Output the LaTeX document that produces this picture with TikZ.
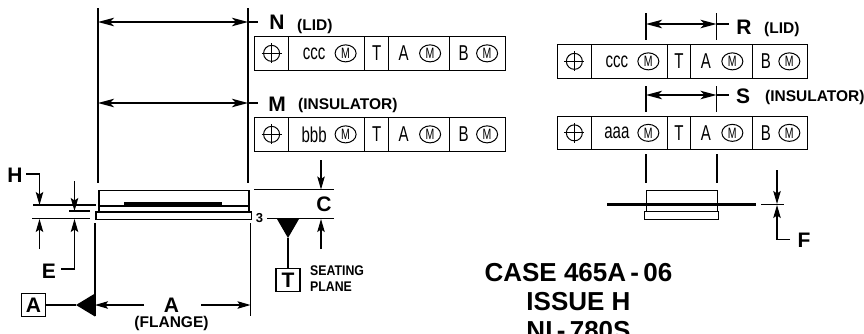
\documentclass[tikz,border=0pt]{standalone}
\usepackage{fontspec}
\setmainfont{Liberation Sans}
\newfontfamily\narrowf[FakeStretch=0.7]{Liberation Sans}
\newfontfamily\seatf[FakeStretch=0.88]{Liberation Sans}
\usetikzlibrary{arrows.meta,shapes.geometric}
\tikzset{
  dimline/.style={line width=1.1pt,black},
  arr/.style={dimline,-{Stealth[length=13pt,width=7.5pt,inset=2.5pt]}},
  dbl/.style={dimline,{Stealth[length=16pt,width=8.5pt,inset=4pt]}-{Stealth[length=16pt,width=8.5pt,inset=4pt]}},
  body/.style={draw,line width=1.5pt,inner sep=0pt,anchor=north west},
  heavy/.style={line width=2.2pt},
  cell/.style={draw,line width=1.2pt,inner sep=0pt,anchor=north west,minimum height=33.5pt},
  ctext/.style={font=\narrowf\fontsize{21.5}{21.5}\selectfont,inner sep=0pt,anchor=center},
  mm/.style={draw,line width=1pt,ellipse,minimum width=21pt,minimum height=17pt,inner sep=0pt,font=\narrowf\fontsize{15}{15}\selectfont},
  letter/.style={font=\bfseries\fontsize{21}{21}\selectfont,inner sep=0pt,anchor=center},
  small/.style={font=\bfseries\fontsize{15.5}{15.5}\selectfont,inner sep=0pt,anchor=west},
  title/.style={font=\bfseries\fontsize{26}{26}\selectfont,inner sep=0pt,anchor=center},
  datum/.style={draw,line width=1.2pt,inner sep=0pt,minimum width=24pt,minimum height=23.5pt,font=\bfseries\fontsize{21}{21}\selectfont},
  tri/.style={fill=black,draw=none},
}
\newcommand\fcfrow[9]{%
  \pgfmathsetmacro\cwa{#3-#2}\pgfmathsetmacro\cwb{#4-#3}\pgfmathsetmacro\cwc{#5-#4}%
  \pgfmathsetmacro\cwd{#6-#5}\pgfmathsetmacro\cwe{#7-#6}%
  \node[cell,minimum width=\cwa pt] (#1a) at (#2,#8) {};
  \node[cell,minimum width=\cwb pt] (#1b) at (#3,#8) {};
  \node[cell,minimum width=\cwc pt] (#1c) at (#4,#8) {};
  \node[cell,minimum width=\cwd pt] (#1d) at (#5,#8) {};
  \node[cell,minimum width=\cwe pt] (#1e) at (#6,#8) {};
  \node[circle,draw,line width=1pt,minimum size=16pt,inner sep=0pt] (#1p) at (#1a.center) {};
  \draw[line width=1pt] ([yshift=10pt]#1p.center) -- ([yshift=-10pt]#1p.center)
     ([xshift=-10pt]#1p.center) -- ([xshift=10pt]#1p.center);
  \node[ctext] (#1w) at ([xshift=-12.5pt]#1b.center) {#9};
  \node[mm] (#1m1) at ([xshift=19pt]#1b.center) {M};
  \node[ctext] (#1t) at (#1c.center) {T};
  \node[ctext] (#1A) at ([xshift=-15.5pt]#1d.center) {A};
  \node[mm] (#1m2) at ([xshift=11pt]#1d.center) {M};
  \node[ctext] (#1B) at ([xshift=-14pt]#1e.center) {B};
  \node[mm] (#1m3) at ([xshift=9.5pt]#1e.center) {M};
}
\begin{document}
\begin{tikzpicture}[x=1pt,y=-1pt]
\useasboundingbox (0,0) rectangle (864,333);
\clip (0,0) rectangle (864,333);

% ---------- left view body
\node[body,minimum width=150pt,minimum height=15.5pt] (lid) at (98,189.5) {};
\node[body,minimum width=150pt,minimum height=6pt] (ins) at (98,205) {};
\node[body,minimum width=155.5pt,minimum height=7.5pt] (flange) at (95,211) {};
\coordinate (seamA) at (124,203.5);\coordinate (seamB) at (222,203.5);
\draw[heavy] (seamA) -- (seamB);

% N / M extension lines
\coordinate (Lt) at (98,8);\coordinate (Lb) at (98,183);
\coordinate (Rt) at (248,8);\coordinate (Rb) at (248,183);
\draw[dimline] (Lt) -- (Lb);
\draw[dimline] (Rt) -- (Rb);
\coordinate (Na) at (98,22);\coordinate (Nb) at (248,22);\coordinate (Nc) at (258,22);
\coordinate (Ma) at (98,103);\coordinate (Mb) at (248,103);\coordinate (Mc) at (258,103);
\draw[dbl] (Na) -- (Nb);\draw[dimline] (Nb) -- (Nc);
\draw[dbl] (Ma) -- (Mb);\draw[dimline] (Mb) -- (Mc);
\node[letter] (Nl) at (277,22.5) {N};
\node[small] (Nt) at (297,26) {(LID)};
\node[letter] (Ml) at (277,104.5) {M};
\node[small] (Mt) at (298,105) {(INSULATOR)};

\fcfrow{fa}{254}{288}{364}{388}{449}{505}{36}{ccc}
\fcfrow{fb}{254}{288}{364}{388}{449}{505}{117}{bbb}

% H and E dims
\coordinate (hx1) at (33,205);\coordinate (hx2) at (96,205);
\coordinate (ex1) at (69,211);\coordinate (ex2) at (90,211);
\coordinate (bx1) at (32,218.5);\coordinate (bx2) at (90,218.5);
\draw[dimline] (hx1) -- (hx2) (ex1) -- (ex2) (bx1) -- (bx2);
\node[letter] (Hl) at (15,175) {H};
\coordinate (Hs) at (26,174);\coordinate (He) at (39.5,205);
\draw[arr] (Hs) -| (He);
\coordinate (e1s) at (74.5,181);\coordinate (e1e) at (74.5,211);
\draw[arr] (e1s) -- (e1e);
\coordinate (h2s) at (39.5,249);\coordinate (h2e) at (39.5,219);
\draw[arr] (h2s) -- (h2e);
\node[letter] (El) at (49,271) {E};
\coordinate (Es) at (61,269);\coordinate (Ee) at (74.5,219);
\draw[arr] (Es) -| (Ee);

% A flange
\coordinate (fLt) at (95,223);\coordinate (fLb) at (95,316);
\coordinate (fRt) at (250.5,223);\coordinate (fRb) at (250.5,316);
\draw[dimline] (fLt) -- (fLb);
\draw[dimline] (fRt) -- (fRb);
\node[letter] (Al) at (171.5,305) {A};
\node[small,anchor=center] (Fl) at (171.5,323.5) {(FLANGE)};
\coordinate (aL) at (95,305);\coordinate (aR) at (250.5,305);
\coordinate (aLs) at (144,305);\coordinate (aRs) at (201,305);
\draw[arr] (aLs) -- (aL);
\draw[arr] (aRs) -- (aR);
\node[datum] (dA) at (33.5,305) {A};
\coordinate (triA) at (76,305);
\draw[heavy] (dA) -- (triA);
\fill[tri] (triA) -- (95,293.5) -- (95,316.5) -- cycle;

% seating plane
\node[font=\bfseries\fontsize{13}{13}\selectfont,inner sep=0pt] (three) at (259.5,218) {3};
\coordinate (sp1) at (267,218.5);\coordinate (sp2) at (334,218.5);
\draw[dimline] (sp1) -- (sp2);
\coordinate (cx1) at (254,189.5);\coordinate (cx2) at (334,189.5);
\draw[dimline] (cx1) -- (cx2);
\node[datum] (dT) at (288,280) {T};
\coordinate (triT) at (288,238);
\fill[tri] (277,219) -- (299,219) -- (triT) -- cycle;
\draw[heavy] (triT) -- (dT);
\node[inner sep=0pt,anchor=west,align=left,font=\seatf\bfseries\fontsize{14}{16.5}\selectfont] (seat) at (310,278.5) {SEATING\\PLANE};
\coordinate (c1s) at (321,160);\coordinate (c1e) at (321,189.5);
\coordinate (c2s) at (321,249);\coordinate (c2e) at (321,219);
\draw[arr] (c1s) -- (c1e);
\draw[arr] (c2s) -- (c2e);
\node[letter] (Cl) at (324,204.5) {C};

% ---------- right view
\fcfrow{fc}{556.5}{591}{666.5}{690}{751.5}{807}{44}{ccc}
\fcfrow{fd}{556.5}{591}{666.5}{690}{751.5}{807}{115.5}{aaa}
\coordinate (Ra) at (646,13);\coordinate (Rc) at (646,40);
\coordinate (Rd) at (716.5,13);\coordinate (Re) at (716.5,40);
\draw[dimline] (Ra) -- (Rc) (Rd) -- (Re);
\coordinate (Rl) at (646,24);\coordinate (Rr) at (716.5,24);\coordinate (Rx) at (729,24);
\draw[dbl] (Rl) -- (Rr);\draw[dimline] (Rr) -- (Rx);
\node[letter] (Rlet) at (744,27) {R};
\node[small] (Rt2) at (764,29) {(LID)};
\coordinate (Sa) at (646,86);\coordinate (Sc) at (646,112);
\coordinate (Sd) at (716.5,86);\coordinate (Se) at (716.5,112);
\draw[dimline] (Sa) -- (Sc) (Sd) -- (Se);
\coordinate (Sl) at (646,95);\coordinate (Sr) at (716.5,95);\coordinate (Sx) at (729,95);
\draw[dbl] (Sl) -- (Sr);\draw[dimline] (Sr) -- (Sx);
\node[letter] (Slet) at (743,96) {S};
\node[small] (St2) at (765,97) {(INSULATOR)};
\coordinate (Ta) at (646,154);\coordinate (Tb) at (646,183);
\coordinate (Tc) at (717,154);\coordinate (Td) at (717,183);
\draw[dimline] (Ta) -- (Tb) (Tc) -- (Td);
\node[body,line width=1.2pt,minimum width=71pt,minimum height=15.5pt] (rlid) at (646,189.5) {};
\node[body,line width=1.2pt,minimum width=71pt,minimum height=6pt] (rins) at (646,205) {};
\node[body,line width=1.2pt,minimum width=74pt,minimum height=8pt] (rfl) at (644,211) {};
\coordinate (ll) at (607,204.5);\coordinate (lr) at (756,204.5);
\draw[heavy] (ll) -- (lr);
\coordinate (fx1) at (761,204.5);\coordinate (fx2) at (784,204.5);
\draw[dimline] (fx1) -- (fx2);
\coordinate (f1s) at (777,170);\coordinate (f1e) at (777,204);
\draw[arr] (f1s) -- (f1e);
\coordinate (f2s) at (790,239.5);\coordinate (f2e) at (777,205);
\draw[arr] (f2s) -| (f2e);
\node[letter] (Fx) at (804,240) {F};

% ---------- caption
\node[title] (cap1) at (578.5,273) {CASE 465A\,-\,06};
\node[title] (cap2) at (578.5,302) {ISSUE H};
\node[title] (cap3) at (578.5,331) {NI\,-\,780S};
\end{tikzpicture}
\end{document}
